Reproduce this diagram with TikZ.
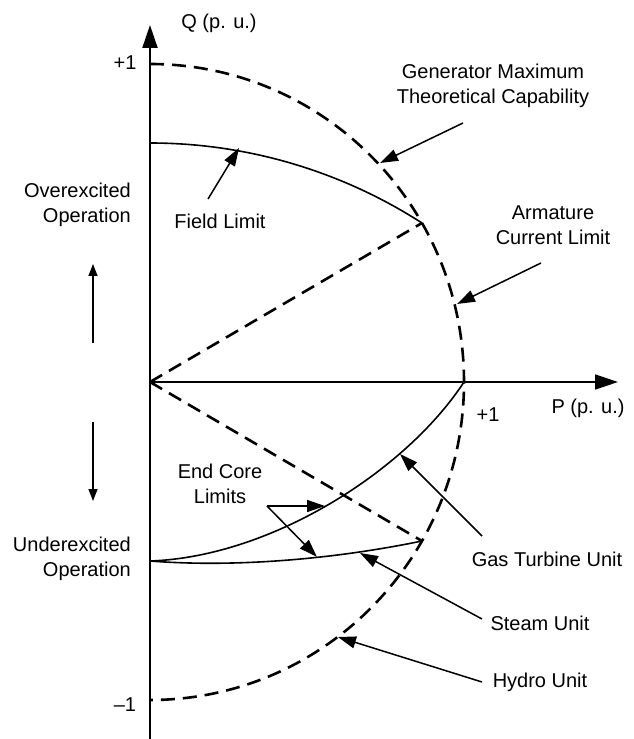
\documentclass[tikz,border=0pt]{standalone}
\usepackage{fontspec}
\setmainfont{Liberation Sans}
\usetikzlibrary{arrows.meta}

\begin{document}
\begin{tikzpicture}[x=1pt, y=1pt,
      every node/.style = {font=\fontsize{20}{25}\selectfont,
        align=center, inner sep=0pt},
      axis/.style = {line width=2pt, -{Triangle[length=23pt,width=15pt]}},
      limit/.style = {line width=2.6pt, dash pattern=on 14pt off 8pt},
      curve/.style = {line width=1.6pt},
      pointer/.style = {line width=1.5pt, -{Triangle[length=18pt,width=12pt]}},
      sense/.style = {line width=1.5pt, -{Triangle[length=12pt,width=9pt]}}]
    \useasboundingbox (-150,-357) rectangle (484,382);
    \coordinate (o) at (0,0);
    \coordinate (qtop) at (0,357);
    \coordinate (qbot) at (0,-357);
    \coordinate (ptip) at (468,0);
    \coordinate (qmax) at (0,318);
    \coordinate (pmax) at (314,0);
    \coordinate (field) at (0,239);
    \coordinate (core) at (0,-179);
    \coordinate (upper) at (272,159);
    \coordinate (lower) at (272,-159);
    \draw[limit] (qmax) arc[start angle=90, end angle=-90,
      x radius=314pt, y radius=318pt];
    \draw[limit] (o) -- (upper);
    \draw[limit] (o) -- (lower);
    \draw[curve] (field) arc[start angle=90, end angle=57.22, radius=502.4pt];
    \draw[curve] (core) .. controls (120,-175) and (255,-90) .. (pmax);
    \draw[curve] (core) .. controls (90,-186) and (190,-176) .. (lower);
    \draw[axis] (qbot) -- (qtop);
    \draw[axis, line width=1.6pt, {Triangle[length=5pt,width=6pt]}-{Triangle[length=23pt,width=15pt]}]
      (o) -- (ptip);

    \node (qlabel) at (69,359) {Q (p. u.)};
    \node (qone) at (-25,319) {+1};
    \node (qminus) at (-25,-323) {--1};
    \node (pone) at (338,-33) {+1};
    \node (plabel) at (438,-26) {P (p. u.)};
    \node (genlabel) at (343,296) {Generator Maximum\\Theoretical Capability};
    \node (armlabel) at (403,157) {Armature\\Current Limit};
    \node (fieldlabel) at (70,161) {Field Limit};
    \node[anchor=east, align=right] (overlabel) at (-19,177) {Overexcited\\Operation};
    \node[anchor=east, align=right] (underlabel) at (-19,-177) {Underexcited\\Operation};
    \node (corelabel) at (70,-102) {End Core\\Limits};
    \node (gaslabel) at (397,-177) {Gas Turbine Unit};
    \node (steamlabel) at (390,-241) {Steam Unit};
    \node (hydrolabel) at (390,-300) {Hydro Unit};

    \coordinate (gentail) at (313,259);
    \coordinate (genpt) at (230,219);
    \coordinate (armtail) at (391,119);
    \coordinate (armpt) at (307,78);
    \coordinate (fieldtail) at (58,183);
    \coordinate (fieldpt) at (89,234);
    \coordinate (coretail) at (117,-124);
    \coordinate (coregas) at (175,-124);
    \coordinate (coresteam) at (167,-175);
    \coordinate (gastail) at (332,-154);
    \coordinate (gaspt) at (250,-72);
    \coordinate (steamtail) at (332,-237);
    \coordinate (steampt) at (210,-171);
    \coordinate (hydrotail) at (332,-300);
    \coordinate (hydropt) at (188,-255);
    \coordinate (uptail) at (-57,39);
    \coordinate (uptip) at (-57,118);
    \coordinate (downtail) at (-57,-40);
    \coordinate (downtip) at (-57,-119);

    \draw[pointer] (gentail) -- (genpt);
    \draw[pointer] (armtail) -- (armpt);
    \draw[pointer] (fieldtail) -- (fieldpt);
    \draw[pointer] (coretail) -- (coregas);
    \draw[pointer] (coretail) -- (coresteam);
    \draw[pointer] (gastail) -- (gaspt);
    \draw[pointer] (steamtail) -- (steampt);
    \draw[pointer] (hydrotail) -- (hydropt);
    \draw[sense] (uptail) -- (uptip);
    \draw[sense] (downtail) -- (downtip);
  \end{tikzpicture}
\end{document}
